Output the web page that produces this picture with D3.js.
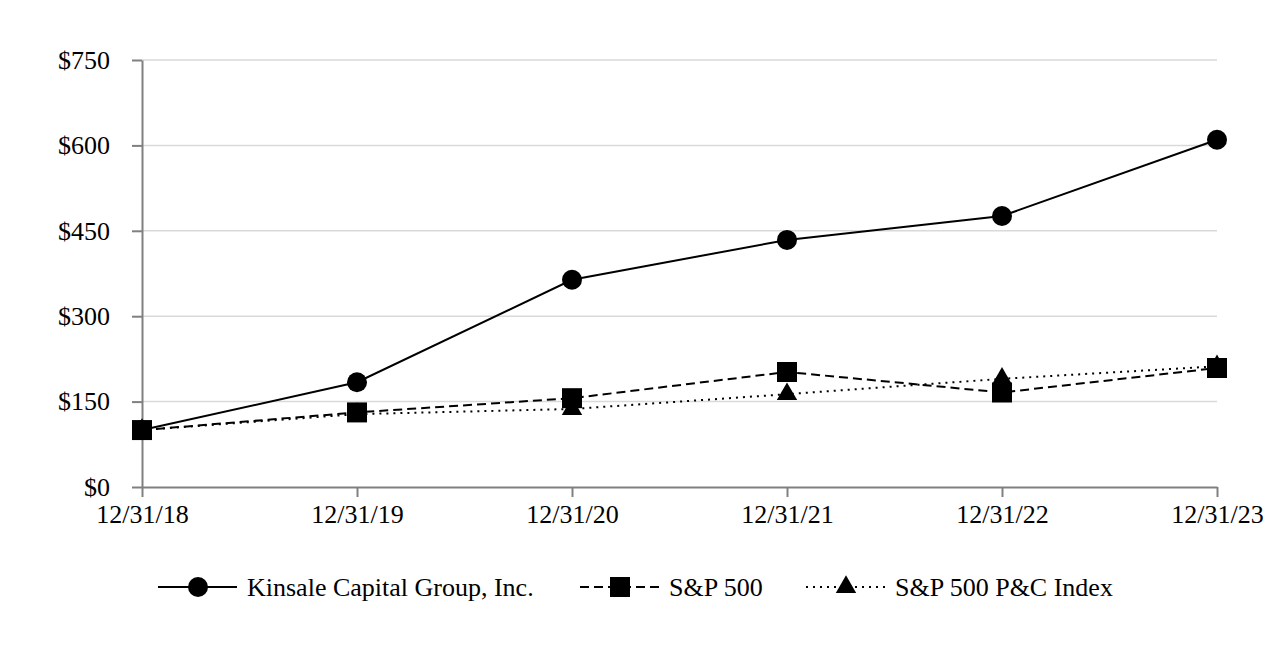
<!DOCTYPE html>
<meta charset="utf-8">
<style>
body { margin: 0; background: #fff; }
text { font-family: "Liberation Serif", "Times New Roman", serif; fill: #000; }
.grid line { stroke: #d9d9d9; stroke-width: 1.5px; }
.axis path, .axis line { stroke: #808080; stroke-width: 2px; }
.series { fill: none; stroke: #000; stroke-width: 2px; }
</style>
<body>
<script src="https://d3js.org/d3.v7.min.js"></script>
<script>
// data
var dates = ["12/31/18", "12/31/19", "12/31/20", "12/31/21", "12/31/22", "12/31/23"];
var kinsale = [100, 184, 364, 434, 476, 610];
var sp500 = [100, 131, 156, 202, 166, 209];
var pc = [100, 128, 137, 163, 190, 212];
var yTicks = [0, 150, 300, 450, 600, 750];

var width = 1276, height = 672;
var svg = d3.select("body").append("svg")
    .attr("width", width).attr("height", height);

var x = d3.scalePoint().domain(dates).range([142, 1217]);
var y = d3.scaleLinear().domain([0, 750]).range([487, 60]);

// gridlines
svg.append("g").attr("class", "grid")
    .selectAll("line").data(yTicks.slice(1)).enter().append("line")
    .attr("x1", 142).attr("x2", 1217)
    .attr("y1", function(d) { return y(d); })
    .attr("y2", function(d) { return y(d); });

// y axis
var yAxis = svg.append("g").attr("class", "axis")
    .attr("transform", "translate(142,0)")
    .call(d3.axisLeft(y).tickValues(yTicks).tickSize(10).tickSizeOuter(0)
        .tickFormat(function(d) { return "$" + d; }));
yAxis.selectAll("text").attr("x", -32).style("font-size", "26px")
    .attr("font-family", null);

// x axis
var xAxis = svg.append("g").attr("class", "axis")
    .attr("transform", "translate(0,487)")
    .call(d3.axisBottom(x).tickSize(10).tickSizeOuter(0));
xAxis.selectAll("text").attr("y", 18).style("font-size", "26px")
    .attr("font-family", null);

var series = [
  {name: "Kinsale Capital Group, Inc.", values: kinsale, dash: null, color: "#000", mark: "circle"},
  {name: "S&P 500", values: sp500, dash: "9,5", color: "#333", mark: "square"},
  {name: "S&P 500 P&C Index", values: pc, dash: "2,5", color: "#000", mark: "triangle"}
];

var line = d3.line()
    .x(function(d, i) { return x(dates[i]); })
    .y(function(d) { return y(d); });

series.forEach(function(s) {
  svg.append("path").attr("class", "series")
      .attr("d", line(s.values))
      .attr("stroke", s.color)
      .attr("stroke-dasharray", s.dash);
});

var symbols = {
  circle: d3.symbol().type(d3.symbolCircle).size(Math.PI * 10 * 10),
  square: d3.symbol().type(d3.symbolSquare).size(20 * 20),
  triangle: d3.symbol().type(d3.symbolTriangle).size(180)
};

// markers: triangles, circles, squares on top
[series[2], series[0], series[1]].forEach(function(s) {
  svg.append("g").selectAll("path").data(s.values).enter().append("path")
      .attr("d", symbols[s.mark]())
      .attr("fill", "#000")
      .attr("transform", function(d, i) {
        return "translate(" + x(dates[i]) + "," + y(d) + ")";
      });
});

// legend
var legendX = [158, 580, 806];
var legend = svg.append("g").attr("transform", "translate(0,587)");
series.forEach(function(s, i) {
  var g = legend.append("g").attr("transform", "translate(" + legendX[i] + ",0)");
  g.append("line").attr("class", "series")
      .attr("x1", 0).attr("x2", 79).attr("y1", 0).attr("y2", 0)
      .attr("stroke", s.color)
      .attr("stroke-dasharray", s.dash);
  g.append("path").attr("d", symbols[s.mark]()).attr("fill", "#000")
      .attr("transform", "translate(40,0)");
  g.append("text").attr("x", 89).attr("dy", "0.35em")
      .style("font-size", "26px").text(s.name);
});
</script>
</body>
